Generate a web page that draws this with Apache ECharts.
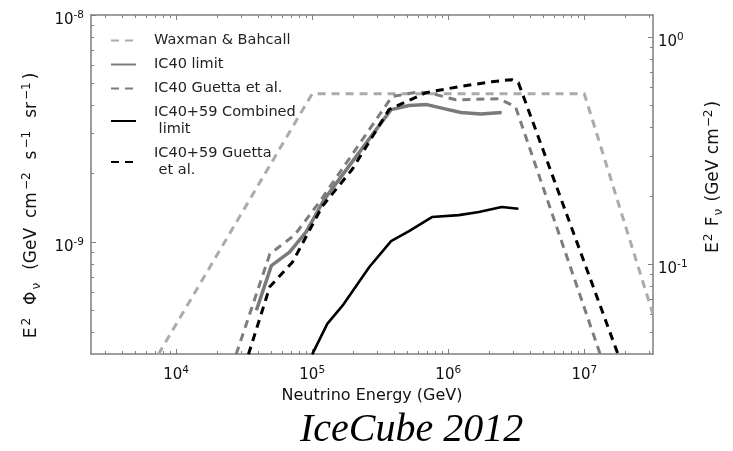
<!DOCTYPE html>
<html><head><meta charset="utf-8">
<script src="https://cdn.jsdelivr.net/npm/echarts@6/dist/echarts.min.js"></script>
<style>html,body{margin:0;padding:0;background:#fff}#c{width:733px;height:451px}</style>
</head><body><div id="c"></div>
<script>
// ---------- data (energies in GeV, fluxes E^2 Phi in GeV cm^-2 s^-1 sr^-1) ----------
const seriesNames = ['Waxman & Bahcall', 'IC40 limit', 'IC40 Guetta et al.', 'IC40+59 Combined\n limit', 'IC40+59 Guetta\n et al.'];

const wbEnergy = [7.4e3, 1e5, 1e7, 3.2e7];
const wbFlux   = [3.2e-10, 4.5e-9, 4.5e-9, 4.8e-10];

const ic40LimitEnergy = [3.89e4, 5.01e4, 6.82e4, 9.03e4, 1.23e5, 3.80e5, 5.15e5, 6.97e5, 9.29e5, 1.24e6, 1.73e6, 2.47e6];
const ic40LimitFlux   = [5.0e-10, 7.87e-10, 9.03e-10, 1.107e-9, 1.545e-9, 3.83e-9, 3.99e-9, 4.03e-9, 3.87e-9, 3.72e-9, 3.66e-9, 3.72e-9];

const ic40GuettaEnergy = [2.76e4, 4.88e4, 7.43e4, 1.13e5, 3.86e5, 6.09e5, 8.11e5, 1.137e6, 2.34e6, 3.12e6, 1.31e7];
const ic40GuettaFlux   = [3.2e-10, 8.85e-10, 1.074e-9, 1.50e-9, 4.37e-9, 4.59e-9, 4.46e-9, 4.23e-9, 4.28e-9, 3.95e-9, 3.2e-10];

const combinedEnergy = [1.0e5, 1.29e5, 1.67e5, 2.63e5, 3.80e5, 5.15e5, 7.59e5, 1.196e6, 1.68e6, 2.47e6, 3.28e6];
const combinedFlux   = [3.2e-10, 4.36e-10, 5.24e-10, 7.76e-10, 1.009e-9, 1.116e-9, 1.288e-9, 1.313e-9, 1.355e-9, 1.426e-9, 1.40e-9];

const ic4059GuettaEnergy = [3.4e4, 4.88e4, 7.18e4, 1.19e5, 1.97e5, 3.67e5, 6.85e5, 1.196e6, 2.09e6, 2.92e6, 3.28e6, 1.77e7];
const ic4059GuettaFlux   = [3.2e-10, 6.35e-10, 8.17e-10, 1.44e-9, 2.09e-9, 3.83e-9, 4.55e-9, 4.83e-9, 5.08e-9, 5.19e-9, 5.03e-9, 3.2e-10];

// ---------- axes ----------
const xRange = [2.366e3, 3.2e7];
const leftRange = [3.21e-10, 1e-8];
const rightRange = [0.0402, 1.25];
const xMajorTicks = [1e4, 1e5, 1e6, 1e7];
const leftMajorTicks = [1e-9, 1e-8];
const rightMajorTicks = [1e-1, 1e0];
const minorMultipliers = [2, 3, 4, 5, 6, 7, 8, 9];

const lg = Math.log10;
function minorTicks(range) {
  const out = [];
  const a = lg(range[0]), b = lg(range[1]);
  for (let d = Math.floor(a) - 1; d <= Math.ceil(b); d++) {
    minorMultipliers.forEach(m => {
      const v = d + lg(m);
      if (v >= a && v <= b) out.push(v);
    });
  }
  return out;
}
const FONT = 'DejaVu Sans';
const FRAME = '#7f7f7f';
const TXT = '#111';
function powLabel(v) {
  const e = Math.round(v);
  return '{b|10}{s|' + (e < 0 ? '-' + (-e) : e) + '}';
}
const tickRich = {
  b: { fontSize: 15, lineHeight: 20, fontFamily: FONT, color: TXT },
  s: { fontSize: 10.5, lineHeight: 8, verticalAlign: 'top', fontFamily: FONT, color: TXT }
};
const nameRich = {
  m: { fontSize: 17, lineHeight: 22, fontFamily: FONT, color: TXT },
  g: { fontSize: 17, lineHeight: 22, width: 10, fontFamily: FONT, color: TXT },
  sup: { fontSize: 12, lineHeight: 10, verticalAlign: 'top', fontFamily: FONT, color: TXT, padding: [0, 2, 0, 1] },
  sub: { fontSize: 12, lineHeight: 10, verticalAlign: 'bottom', fontFamily: FONT, color: TXT, padding: [0, 2, 0, 1] },
  sup2: { fontSize: 12, lineHeight: 10, verticalAlign: 'top', fontFamily: FONT, color: TXT, padding: [0, 3, 0, 2] },
  sub2: { fontSize: 12, lineHeight: 10, verticalAlign: 'bottom', fontFamily: FONT, color: TXT, padding: [0, 3, 0, 2] }
};

function majorAxis(pos, range, majors, extra) {
  const vals = majors.map(lg);
  return Object.assign({
    type: 'value', position: pos, min: lg(range[0]), max: lg(range[1]),
    axisLine: { show: true, onZero: false, lineStyle: { color: FRAME, width: 1.5 } },
    axisTick: { show: true, inside: true, length: 5, customValues: vals, lineStyle: { color: FRAME, width: 1 } },
    axisLabel: { show: false },
    splitLine: { show: false }
  }, extra || {});
}
function minorAxis(pos, range) {
  return {
    type: 'value', position: pos, min: lg(range[0]), max: lg(range[1]),
    axisLine: { show: false, onZero: false },
    axisTick: { show: true, inside: true, length: 3, customValues: minorTicks(range), lineStyle: { color: FRAME, width: 1 } },
    axisLabel: { show: false },
    splitLine: { show: false }
  };
}

const xAxes = [
  majorAxis('bottom', xRange, xMajorTicks, {
    axisLabel: { show: true, customValues: xMajorTicks.map(lg), formatter: powLabel, rich: tickRich, margin: 11 },
    name: 'Neutrino Energy (GeV)', nameLocation: 'middle', nameGap: 32,
    nameTextStyle: { fontFamily: FONT, fontSize: 16, color: TXT }
  }),
  minorAxis('bottom', xRange),
  majorAxis('top', xRange, xMajorTicks),
  minorAxis('top', xRange)
];
const yAxes = [
  majorAxis('left', leftRange, leftMajorTicks, {
    axisLabel: { show: true, customValues: leftMajorTicks.map(lg), formatter: powLabel, rich: tickRich, margin: 7, padding: [10, 0, 0, 0] },
    name: '{m|E}{sup2|2}{g| }{m|Φ}{sub2|ν}{g| }{m|(GeV}{g| }{m|cm}{sup2|−2}{g| }{m|s}{sup2|−1}{g| }{m|sr}{sup2|−1}{m|)}',
    nameLocation: 'middle', nameRotate: 90, nameGap: 48,
    nameTextStyle: { fontFamily: FONT, fontSize: 17, color: TXT, rich: nameRich, padding: [0, 42, 0, 0] }
  }),
  minorAxis('left', leftRange),
  majorAxis('right', rightRange, rightMajorTicks, {
    axisLabel: { show: true, customValues: rightMajorTicks.map(lg), formatter: powLabel, rich: tickRich, margin: 5, padding: [10, 0, 0, 0] },
    name: '{m|E}{sup|2}{m| F}{sub|ν}{m| (GeV cm}{sup|−2}{m|)}',
    nameLocation: 'middle', nameRotate: 90, nameGap: 50,
    nameTextStyle: { fontFamily: FONT, fontSize: 17, color: TXT, rich: nameRich, padding: [0, 0, 0, 15] }
  }),
  minorAxis('right', rightRange)
];

function toPoints(E, F) { return E.map((e, i) => [lg(e), lg(F[i])]); }
function lineSeries(name, E, F, color, width, dashed) {
  return {
    name: name, type: 'line', xAxisIndex: 0, yAxisIndex: 0,
    data: toPoints(E, F), symbol: 'none', clip: true, silent: true,
    lineStyle: { color: color, width: width, type: dashed ? [8, 6] : 'solid', cap: 'butt', join: 'round' },
    itemStyle: { color: color }
  };
}

const chart = echarts.init(document.getElementById('c'), null, { renderer: 'canvas' });
chart.setOption({
  animation: false,
  backgroundColor: '#fff',
  title: {
    text: 'IceCube 2012', left: 300, top: 410, padding: 0,
    textStyle: { fontFamily: 'Liberation Serif', fontStyle: 'italic', fontWeight: 'normal', fontSize: 40, color: '#000' }
  },
  grid: { left: 91, top: 15, right: 78, bottom: 97, containLabel: false },
  legend: {
    orient: 'vertical', left: 110, top: 32, padding: 0, itemGap: 7,
    itemWidth: 25, itemHeight: 14, selectedMode: false,
    data: seriesNames,
    itemStyle: { opacity: 0, borderWidth: 0 },
    textStyle: { fontFamily: FONT, fontSize: 14.5, color: '#222', lineHeight: 17, padding: [0, 0, 0, 13] }
  },
  xAxis: xAxes,
  yAxis: yAxes,
  series: [
    lineSeries(seriesNames[0], wbEnergy, wbFlux, '#ababab', 3, true),
    lineSeries(seriesNames[1], ic40LimitEnergy, ic40LimitFlux, '#7a7a7a', 3.5, false),
    lineSeries(seriesNames[2], ic40GuettaEnergy, ic40GuettaFlux, '#7d7d7d', 3, true),
    lineSeries(seriesNames[3], combinedEnergy, combinedFlux, '#000000', 2.6, false),
    lineSeries(seriesNames[4], ic4059GuettaEnergy, ic4059GuettaFlux, '#000000', 3, true)
  ]
});
</script></body></html>
